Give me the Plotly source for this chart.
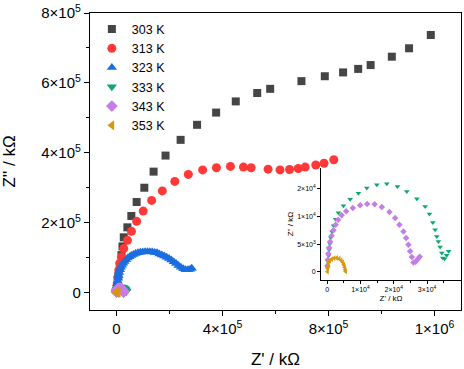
import plotly.graph_objects as go

# ---------------- data (Z' , Z'' in kOhm) ----------------
labels = ["303 K", "313 K", "323 K", "333 K", "343 K", "353 K"]
colors = ["#454545", "#ff3838", "#1a6ee0", "#13a66c", "#c57ee8", "#d9960f"]

x303 = [3000, 6800, 12400, 18800, 22600, 27400, 41000, 56000, 76000, 105000, 140000, 185000,
        242000, 304000, 376000, 450000, 531000, 580000, 698000, 786000, 855000, 912000,
        959000, 1039000, 1104000, 1186000]
y303 = [21000, 47000, 75000, 107000, 132000, 158000, 186600, 219000, 259000, 300000, 346000, 392000,
        437000, 480000, 515000, 547000, 571000, 583000, 605000, 619000, 630000, 640000,
        651000, 675000, 699000, 737000]

x313 = [2300, 4900, 8600, 12400, 18800, 27400, 41400, 56400, 76000, 100800, 132700, 172900,
        220000, 271000, 325000, 377000, 430000, 479000, 508000, 572000, 617000, 653000,
        686000, 712000, 752000, 783000, 820000]
y313 = [21000, 43700, 63700, 83700, 101700, 125700, 149400, 175100, 203700, 233000, 263700, 290900,
        318000, 338000, 351000, 357000, 361000, 359000, 357000, 353000, 351000, 352000,
        355000, 359000, 365000, 370000, 380000]

x323 = [1000, 1800, 2800, 4000, 5500, 7500, 10000, 13000, 16500, 20500, 25000, 30000, 36000,
        42000, 49000, 56000, 64000, 72000, 81000, 90000, 99000, 108000, 117000, 126000, 135000,
        144000, 153000, 162000, 171000, 180000, 189000, 198000, 207000, 216000, 225000, 234000,
        243000, 252000, 261000, 270000, 278000, 284000]
y323 = [9000, 17000, 25000, 33000, 41000, 49000, 57000, 65000, 72000, 78000, 84000, 89000, 94000,
        98500, 102500, 106000, 109000, 111500, 113500, 115000, 116000, 116500, 116700, 116500, 115800,
        114800, 113600, 110000, 107500, 104500, 101000, 97500, 93000, 88000, 83000, 77500,
        72500, 68000, 65500, 65000, 66500, 69500]

x333 = [150, 300, 450, 600, 840, 1110, 1500, 1950, 2550, 3390, 4890, 6900, 9400, 11920, 14920,
        17930, 21110, 23930, 26940, 29430, 30720, 31740, 32430, 32940, 33420, 33930, 34440,
        34740, 35290, 35890, 36490]
y333 = [770, 1850, 2930, 4010, 5090, 6170, 7250, 8330, 9500, 10670, 11920, 13090, 14170, 15110,
        15700, 15880, 15400, 14500, 13180, 11800, 10430, 8920, 7610, 6400, 5500, 4500, 3420,
        2520, 2390, 3020, 3740]

x343 = [90, 210, 360, 600, 900, 1350, 1890, 2550, 3300, 4350, 5710, 7720, 9910, 12010, 14260,
        16430, 18710, 20420, 21710, 22910, 23720, 24410, 24920, 25440, 25920, 26580, 27180, 27780]
y343 = [1130, 2210, 3290, 4370, 5450, 6530, 7520, 8510, 9410, 10220, 10940, 11510, 12020, 12230,
        12200, 11690, 10790, 9710, 8510, 7300, 6120, 4910, 3710, 2700, 1730, 1850, 2300, 2750]

x353 = [100, 150, 250, 400, 800, 1350, 2100, 2850, 3600, 4200, 4650, 5000, 5250, 5400, 5550]
y353 = [50, 590, 1130, 1580, 2030, 2300, 2480, 2520, 2400, 2120, 1760, 1310, 860, 410, 100]

main_xticks = [0, 400000, 800000, 1200000]
main_xtext = ["0", "4×10<sup>5</sup>", "8×10<sup>5</sup>", "1×10<sup>6</sup>"]
main_yticks = [0, 200000, 400000, 600000, 800000]
main_ytext = ["0", "2×10<sup>5</sup>", "4×10<sup>5</sup>", "6×10<sup>5</sup>", "8×10<sup>5</sup>"]
ins_xticks = [0, 10000, 20000, 30000]
ins_xtext = ["0", "1×10<sup>4</sup>", "2×10<sup>4</sup>", "3×10<sup>4</sup>"]
ins_yticks = [0, 5000, 10000, 15000]
ins_ytext = ["0", "5×10<sup>3</sup>", "1×10<sup>4</sup>", "2×10<sup>4</sup>"]

FONT = "Arial, Liberation Sans, sans-serif"

series = [(x303, y303, "square", 8), (x313, y313, "circle", 9), (x323, y323, "triangle-up", 9),
          (x333, y333, "triangle-down", 9), (x343, y343, "diamond", 9), (x353, y353, "triangle-left", 9)]

fig = go.Figure()
for (xs, ys, sym, sz), lab, col in zip(series, labels, colors):
    fig.add_trace(go.Scatter(x=xs, y=ys, mode="markers", name=lab,
                             marker=dict(symbol=sym, size=sz, color=col, line=dict(width=0))))

inset_sym = [("triangle-down", 5), ("diamond", 5), ("triangle-left", 5)]
for (xs, ys), (sym, sz), col in zip([(x333, y333), (x343, y343), (x353, y353)], inset_sym, colors[3:]):
    fig.add_trace(go.Scatter(x=xs, y=ys, mode="markers", showlegend=False, xaxis="x2", yaxis="y2",
                             marker=dict(symbol=sym, size=sz, color=col, line=dict(width=0))))

fig.update_layout(
    width=464, height=369,
    margin=dict(l=90, r=3, t=13, b=59, autoexpand=False),
    paper_bgcolor="white", plot_bgcolor="white",
    font=dict(family=FONT, size=14, color="black"),
    showlegend=True,
    legend=dict(x=0.005, y=0.995, xanchor="left", yanchor="top", bgcolor="rgba(0,0,0,0)",
                font=dict(size=12.5), tracegroupgap=0, itemwidth=30),
    xaxis=dict(domain=[0, 1], range=[-100000, 1300000], tickmode="array", tickvals=main_xticks,
               ticktext=main_xtext, showgrid=False, zeroline=False, showline=True, linecolor="black",
               linewidth=1.3, mirror=True, ticks="outside", ticklen=5, tickcolor="black", automargin=False,
               ticklabeloverflow="allow",
               minor=dict(tickvals=[200000, 600000, 1000000], ticks="outside", ticklen=3, tickcolor="black"),
               title=dict(text="Z' / kΩ", font=dict(size=17), standoff=18), tickfont=dict(size=15)),
    yaxis=dict(domain=[0, 1], range=[-50000, 800000], tickmode="array", tickvals=main_yticks,
               ticktext=main_ytext, showgrid=False, zeroline=False, showline=True, linecolor="black",
               linewidth=1.3, mirror=True, ticks="outside", ticklen=5, tickcolor="black", automargin=False,
               ticklabeloverflow="allow",
               minor=dict(tickvals=[100000, 300000, 500000, 700000], ticks="outside", ticklen=3,
                          tickcolor="black"),
               title=dict(text="Z'' / kΩ", font=dict(size=17), standoff=22), tickfont=dict(size=15)),
    xaxis2=dict(domain=[0.623, 1.0], anchor="y2", range=[-1800, 40200], tickmode="array",
                tickvals=ins_xticks, ticktext=ins_xtext, showgrid=False, zeroline=False, showline=True,
                linecolor="black", linewidth=1, ticks="outside", ticklen=3, tickcolor="black",
                automargin=False,
                minor=dict(tickvals=[5000, 15000, 25000, 35000], ticks="outside", ticklen=2,
                           tickcolor="black"),
                tickfont=dict(size=7), title=dict(text="Z' / kΩ", font=dict(size=8), standoff=2)),
    yaxis2=dict(domain=[0.101, 0.478], anchor="x2", range=[-1440, 18700], tickmode="array",
                tickvals=ins_yticks, ticktext=ins_ytext, showgrid=False, zeroline=False, showline=True,
                linecolor="black", linewidth=1, ticks="outside", ticklen=3, tickcolor="black",
                automargin=False,
                tickfont=dict(size=7), title=dict(text="Z'' / kΩ", font=dict(size=8), standoff=2)),
)

# remove the default page margin so the figure fills the 464x369 window exactly
fig.write_html("out.html", config={"displayModeBar": False},
               post_script="document.body.style.margin='0';document.body.style.overflow='hidden';")
